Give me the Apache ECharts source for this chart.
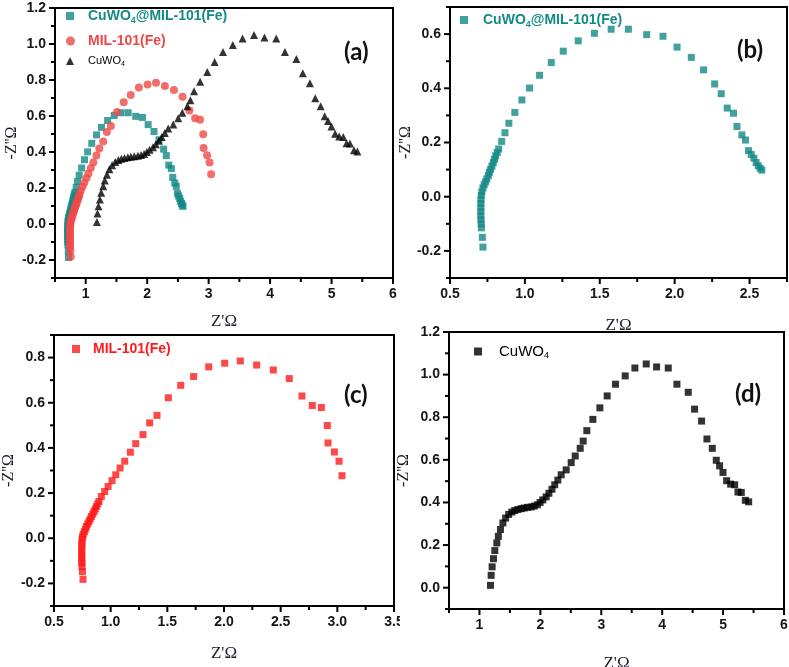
<!DOCTYPE html>
<html><head><meta charset="utf-8">
<script src="https://cdn.jsdelivr.net/npm/echarts@6/dist/echarts.min.js"></script>
<style>html,body{margin:0;padding:0;background:#fff;overflow:hidden}.c,.ov{position:absolute}.ov{pointer-events:none}#diag{position:absolute;left:2px;top:656px;font:8px sans-serif;color:#ccc}</style>
</head><body>
<div id="diag"></div>
<script>
// ---- data: CuWO4@MIL-101(Fe) ----
const compX = [0.720,0.716,0.710,0.708,0.707,0.706,0.706,0.706,0.706,0.707,0.709,0.713,0.720,0.728,0.737,0.746,0.756,0.763,0.771,0.780,0.789,0.797,0.805,0.815,0.825,0.845,0.867,0.893,0.933,0.980,1.031,1.098,1.176,1.256,1.356,1.464,1.576,1.691,1.813,1.922,2.016,2.111,2.193,2.267,2.311,2.351,2.393,2.416,2.449,2.473,2.493,2.511,2.529,2.544,2.558,2.571,2.582];
const compY = [-0.186,-0.150,-0.115,-0.100,-0.085,-0.070,-0.055,-0.040,-0.025,-0.010,0.005,0.018,0.032,0.044,0.055,0.066,0.078,0.090,0.101,0.113,0.126,0.138,0.151,0.163,0.176,0.204,0.236,0.271,0.311,0.357,0.401,0.448,0.495,0.537,0.575,0.603,0.618,0.618,0.598,0.592,0.552,0.514,0.468,0.416,0.380,0.327,0.308,0.259,0.228,0.209,0.170,0.156,0.142,0.126,0.114,0.105,0.098];
// ---- data: MIL-101(Fe) ----
const milX = [0.756,0.751,0.747,0.746,0.745,0.745,0.745,0.745,0.746,0.746,0.748,0.751,0.759,0.768,0.777,0.786,0.797,0.809,0.819,0.830,0.842,0.853,0.864,0.874,0.886,0.897,0.918,0.947,0.977,1.012,1.045,1.083,1.124,1.174,1.221,1.285,1.344,1.409,1.509,1.618,1.732,1.865,2.006,2.144,2.288,2.435,2.576,2.688,2.779,2.859,2.912,2.918,2.974,3.015,3.041];
const milY = [-0.182,-0.148,-0.126,-0.110,-0.095,-0.080,-0.065,-0.050,-0.035,-0.020,-0.006,0.007,0.018,0.029,0.040,0.052,0.063,0.074,0.085,0.096,0.107,0.118,0.129,0.140,0.152,0.163,0.185,0.207,0.229,0.255,0.281,0.311,0.341,0.381,0.419,0.459,0.511,0.544,0.622,0.677,0.716,0.759,0.775,0.785,0.767,0.745,0.707,0.630,0.588,0.579,0.499,0.422,0.382,0.341,0.277];
// ---- data: CuWO4 ----
const cuX = [1.181,1.192,1.208,1.230,1.252,1.285,1.310,1.345,1.385,1.430,1.480,1.531,1.580,1.630,1.685,1.735,1.790,1.849,1.900,1.950,1.995,2.040,2.095,2.140,2.190,2.236,2.287,2.342,2.424,2.506,2.572,2.654,2.703,2.763,2.862,2.977,3.097,3.234,3.393,3.552,3.738,3.908,4.100,4.242,4.428,4.532,4.647,4.735,4.823,4.888,4.943,4.998,5.058,5.124,5.190,5.244,5.299,5.365,5.420];
const cuY = [0.011,0.058,0.098,0.136,0.174,0.210,0.241,0.273,0.304,0.327,0.344,0.355,0.362,0.367,0.371,0.374,0.377,0.379,0.383,0.389,0.400,0.412,0.426,0.443,0.462,0.483,0.505,0.530,0.553,0.587,0.618,0.654,0.688,0.737,0.790,0.844,0.900,0.955,0.994,1.031,1.050,1.036,1.031,0.955,0.917,0.838,0.782,0.698,0.654,0.598,0.572,0.541,0.502,0.486,0.483,0.449,0.447,0.410,0.403];
// ---- tick labels (labelled positions) ----
const xTicksA = [1,2,3,4,5,6];
const yTicksA = [-0.2,0.0,0.2,0.4,0.6,0.8,1.0,1.2];
const xTicksB = [0.5,1.0,1.5,2.0,2.5];
const yTicksB = [-0.2,0.0,0.2,0.4,0.6];
const xTicksC = [0.5,1.0,1.5,2.0,2.5,3.0,3.5];
const yTicksC = [-0.2,0.0,0.2,0.4,0.6,0.8];
const xTicksD = [1,2,3,4,5,6];
const yTicksD = [0.0,0.2,0.4,0.6,0.8,1.0,1.2];

const zip = (xs, ys) => xs.map((x, i) => [x, ys[i]]);
const TEAL = '#138a86', REDA = '#f04848', REDC = '#ff1a1a', BLK = '#000';
const isLabelled = (v, list) => list.some(t => Math.abs(t - v) < 1e-6);
const labelStyle = {fontFamily:'Liberation Sans', fontWeight:'bold', fontSize:14, color:'#161616'};
const nameStyle = {fontFamily:'Liberation Serif', fontSize:17, color:'#1a1a2a'};
const rich = {
  t:{fontFamily:'Liberation Sans', fontWeight:'bold', fontSize:14, lineHeight:18},
  s:{fontFamily:'Liberation Sans', fontWeight:'bold', fontSize:9, lineHeight:10, verticalAlign:'bottom'},
  n:{fontFamily:'Liberation Sans', fontSize:11, lineHeight:14},
  ns:{fontFamily:'Liberation Sans', fontSize:7, lineHeight:7, verticalAlign:'bottom'},
  d:{fontFamily:'Liberation Sans', fontSize:15, lineHeight:18},
  ds:{fontFamily:'Liberation Sans', fontSize:9, lineHeight:10, verticalAlign:'bottom'}
};
const sc = (name, symbol, size, color, xs, ys) =>
  ({name:name, type:'scatter', symbol:symbol, symbolSize:size, itemStyle:{color:color}, data:zip(xs, ys)});

// page regions of the four chart instances (they overlap a little; canvases are transparent)
const DIVS = [{l:0,t:0,w:400,h:340},{l:390,t:0,w:399,h:340},{l:0,t:320,w:400,h:347},{l:390,t:320,w:399,h:347}];

const panels = [
  {grid:{left:55,top:8,width:338,height:270}, x:[0.5,6], y:[-0.3,1.2], xt:xTicksA, yt:yTicksA, xm:0.5, ym:0.1, xd:0, xGap:35, yGap:35,
   tag:['(a)',344,40],
   rows:[{key:'aComp', icon:'rect', cx:70, cy:18, size:8, color:TEAL, tx:88, lh:18, text:'{t|CuWO}{s|4}{t|@MIL-101(Fe)}'},
         {key:'aMil', icon:'circle', cx:70.5, cy:43, size:9, color:REDA, tx:88, lh:18, text:'{t|MIL-101(Fe)}'},
         {key:'aCu', icon:'triangle', cx:70, cy:62, size:8, color:BLK, tx:88, lh:14, text:'{n|CuWO}{ns|4}'}],
   mk:() => [sc('aComp','rect',7,TEAL,compX,compY), sc('aMil','circle',8,REDA,milX,milY), sc('aCu','triangle',8,BLK,cuX,cuY)]},
  {grid:{left:450,top:7,width:337,height:271}, x:[0.5,2.75], y:[-0.3,0.7], xt:xTicksB, yt:yTicksB, xm:0.25, ym:0.1, xd:1, xGap:39, yGap:36,
   tag:['(b)',737,38],
   rows:[{key:'bComp', icon:'rect', cx:464, cy:22, size:8, color:TEAL, tx:483, lh:18, text:'{t|CuWO}{s|4}{t|@MIL-101(Fe)}'}],
   mk:() => [sc('bComp','rect',7,TEAL,compX,compY)]},
  {grid:{left:54,top:335,width:340,height:271}, x:[0.5,3.5], y:[-0.3,0.9], xt:xTicksC, yt:yTicksC, xm:0.25, ym:0.1, xd:1, xGap:39, yGap:37,
   tag:['(c)',344,383],
   rows:[{key:'cMil', icon:'rect', cx:76, cy:351, size:8, color:REDC, tx:93, lh:18, text:'{t|MIL-101(Fe)}'}],
   mk:() => [sc('cMil','rect',7,REDC,milX,milY)]},
  {grid:{left:449,top:332,width:335,height:277}, x:[0.5,6], y:[-0.1,1.2], xt:xTicksD, yt:yTicksD, xm:0.5, ym:0.1, xd:0, xGap:46, yGap:37,
   tag:['(d)',735,382],
   rows:[{key:'dCu', icon:'rect', cx:478, cy:353, size:8, color:BLK, tx:499, lh:18, text:'{d|CuWO}{ds|4}'}],
   mk:() => [sc('dCu','rect',7,BLK,cuX,cuY)]}
];

// frame, axis lines and ticks as a custom series placed through the axes' own scales
function frameSeries(p) {
  return {type:'custom', name:'frame', silent:true, clip:false, z:5, data:[[p.x[0], p.y[0]]],
    renderItem:(params, api) => {
      const bl = api.coord([p.x[0], p.y[0]]), tr = api.coord([p.x[1], p.y[1]]);
      const x0 = bl[0], y1 = bl[1], x1 = tr[0], y0 = tr[1];
      const kids = [];
      const R = (x, y, w, h) => kids.push({type:'rect', shape:{x:x, y:y, width:w, height:h}, style:{fill:'#000'}});
      R(x0 - 1, y0 - 1, x1 - x0 + 2, 2); R(x0 - 1, y1 - 1, x1 - x0 + 2, 2);
      R(x0 - 1, y0 - 1, 2, y1 - y0 + 2); R(x1 - 1, y0 - 1, 2, y1 - y0 + 2);
      const nx = Math.round((p.x[1] - p.x[0]) / p.xm);
      for (let k = 0; k <= nx; k++) {
        const v = p.x[0] + k * p.xm, px = api.coord([v, p.y[0]])[0];
        R(px - 1, y1 + 1, 2, isLabelled(v, p.xt) ? 5 : 3);
      }
      const ny = Math.round((p.y[1] - p.y[0]) / p.ym);
      for (let k = 0; k <= ny; k++) {
        const v = p.y[0] + k * p.ym, py = api.coord([p.x[0], v])[1];
        const len = isLabelled(v, p.yt) ? 5 : 3;
        R(x0 - 1 - len, py - 1, len, 2);
      }
      return {type:'group', children:kids};
    }};
}
function legendComp(r, d) {
  const rr = Object.assign({}, rich, {gap:{width:r.tx - (r.cx + r.size / 2) - 5}});
  return {data:[{name:r.key, icon:r.icon}], left:r.cx - r.size / 2 - d.l, top:r.cy - r.lh / 2 - d.t, padding:0,
    itemWidth:r.size, itemHeight:r.size, formatter:() => '{gap|}' + r.text, textStyle:{color:r.color, rich:rr}, selectedMode:false};
}
function legendGraphic(r, d) {
  const cx = r.cx - d.l, cy = r.cy - d.t, h = r.size / 2;
  let icon;
  if (r.icon === 'rect') icon = {type:'rect', shape:{x:cx - h, y:cy - h, width:r.size, height:r.size}, style:{fill:r.color}};
  else if (r.icon === 'circle') icon = {type:'circle', shape:{cx:cx, cy:cy, r:h}, style:{fill:r.color}};
  else icon = {type:'polygon', shape:{points:[[cx, cy - h], [cx + h, cy + h], [cx - h, cy + h]]}, style:{fill:r.color}};
  return [icon, {type:'text', x:r.tx - d.l, y:cy, style:{text:r.text, rich:rich, fill:r.color, verticalAlign:'middle', textVerticalAlign:'middle'}}];
}
const tagGraphic = (p, d) => ({type:'text', left:p.tag[1] - d.l, top:p.tag[2] - d.t,
  style:{text:p.tag[0], fontFamily:'Lato', fontWeight:'bold', fontSize:24, fill:'#111'}});
const relGrid = (p, d) => ({left:p.grid.left - d.l, top:p.grid.top - d.t, width:p.grid.width, height:p.grid.height});

function mainOption(p, d, lv) {
  const g = relGrid(p, d);
  const nativeLines = lv >= 1, useCustom = lv !== 1;
  const lab = lv <= 2 ? labelStyle : lv === 3 ? {fontWeight:'bold', fontSize:14, color:'#161616'} : {};
  const nm = lv <= 2 ? nameStyle : lv === 3 ? {fontSize:17, color:'#1a1a2a'} : {};
  const gridOpt = Object.assign({show:nativeLines, borderColor:'#000', borderWidth:2}, g);
  if (lv <= 2) gridOpt.outerBoundsMode = 'none';
  const axLine = {show:nativeLines, onZero:false, lineStyle:{color:'#000', width:2}};
  const axTick = {show:nativeLines, length:4, lineStyle:{color:'#000', width:2}};
  const series = p.mk();
  if (useCustom) series.push(frameSeries(p));
  const o = {animation:false, grid:[gridOpt],
    xAxis:[{gridIndex:0, type:'value', position:'bottom', min:p.x[0], max:p.x[1], interval:p.xm,
      name:"Z'Ω", nameLocation:'middle', nameGap:p.xGap, nameTextStyle:nm,
      axisLine:axLine, axisTick:axTick,
      axisLabel:Object.assign({show:true, margin:9, formatter:v => isLabelled(v, p.xt) ? v.toFixed(p.xd) : ''}, lab),
      splitLine:{show:false}}],
    yAxis:[{gridIndex:0, type:'value', position:'left', min:p.y[0], max:p.y[1], interval:p.ym,
      name:"-Z''Ω", nameLocation:'middle', nameGap:p.yGap, nameMoveOverlap:false,
      nameTextStyle:Object.assign({}, nm, lv <= 3 ? {fontSize:16} : {}),
      axisLine:axLine, axisTick:axTick,
      axisLabel:Object.assign({show:true, margin:9, formatter:v => isLabelled(v, p.yt) ? v.toFixed(1) : ''}, lab),
      splitLine:{show:false}}],
    series:series};
  if (lv <= 1) { o.legend = p.rows.map(r => legendComp(r, d)); o.graphic = [tagGraphic(p, d)]; }
  return o;
}
function frameDrawn(chart, g) {
  try { chart.getZr().refreshImmediately(); } catch (e) {}
  const cv = chart.getDom().querySelector('canvas');
  if (!cv) return false;
  const ctx = cv.getContext('2d');
  const s = cv.width / (cv.clientWidth || cv.width);
  for (const fx of [0.37, 0.63]) {
    const x = Math.round((g.left + g.width * fx) * s), y = Math.round((g.top + g.height - 4) * s);
    const px = ctx.getImageData(x, y, 1, Math.max(1, Math.round(9 * s))).data;
    for (let k = 0; k < px.length; k += 4) if (px[k + 3] > 150 && px[k] < 90 && px[k + 1] < 90 && px[k + 2] < 90) return true;
  }
  return false;
}
function makeDiv(cls, d) {
  const el = document.createElement('div');
  el.className = cls;
  el.style.left = d.l + 'px'; el.style.top = d.t + 'px'; el.style.width = d.w + 'px'; el.style.height = d.h + 'px';
  document.body.appendChild(el);
  return el;
}

const chosen = [];
panels.forEach((p, i) => {
  const d = DIVS[i];
  const host = makeDiv('c', d);
  let chart = null, lvUsed = -1;
  for (let lv = 0; lv <= 4 && lvUsed < 0; lv++) {
    try {
      if (chart) chart.dispose();
      chart = echarts.init(host, null, {renderer:'canvas'});
      chart.setOption(mainOption(p, d, lv));
      if (frameDrawn(chart, relGrid(p, d))) lvUsed = lv;
    } catch (e) {}
  }
  if (lvUsed < 0) {
    try { if (chart) chart.dispose(); } catch (e) {}
    chart = echarts.init(host, null, {renderer:'canvas'});
    chart.setOption(mainOption(p, d, 2));
    lvUsed = 2; chosen.push('x');
  }
  chosen.push(lvUsed);
  if (lvUsed >= 2) {
    const ov = echarts.init(makeDiv('ov', d), null, {renderer:'canvas'});
    const els = [];
    p.rows.forEach(r => legendGraphic(r, d).forEach(e => els.push(e)));
    els.push(tagGraphic(p, d));
    ov.setOption({animation:false, graphic:els});
  }
});
if (chosen.some(v => v !== 0)) document.getElementById('diag').textContent = chosen.join(',');
</script></body></html>
